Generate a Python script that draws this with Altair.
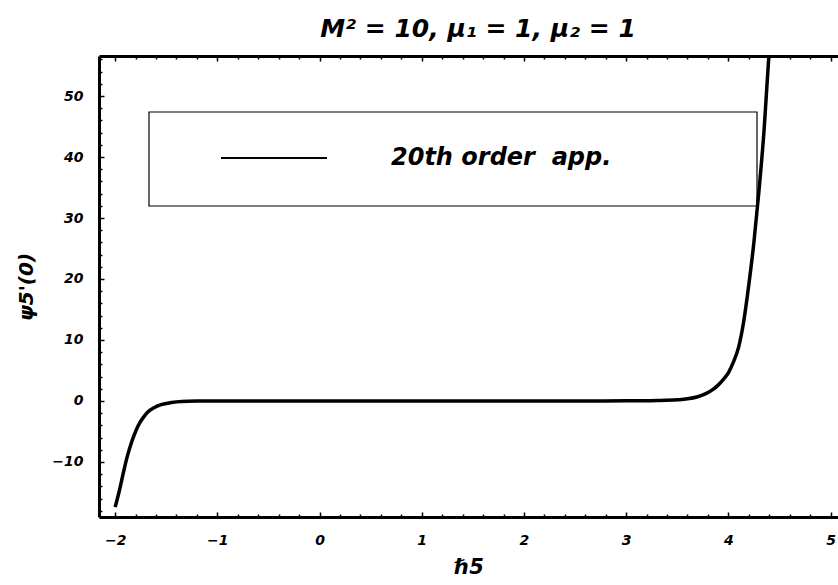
import altair as alt
import pandas as pd

# 20th order approximation of psi5'(0) against the convergence control parameter h5
h_values = [-2.0, -1.96, -1.92, -1.88, -1.84, -1.80, -1.76, -1.72, -1.68, -1.62,
            -1.55, -1.45, -1.35, -1.2, -1.0, -0.5, 0.0, 0.5, 1.0, 1.5, 2.0, 2.5,
            3.0, 3.3, 3.5, 3.6, 3.7, 3.78, 3.85, 3.9, 3.95, 4.0, 4.05, 4.1, 4.15,
            4.2, 4.25, 4.3, 4.35, 4.4, 4.45]
psi_values = [-17.4, -14.8, -11.8, -9.0, -6.8, -5.0, -3.6, -2.6, -1.8, -1.1,
              -0.6, -0.25, -0.08, -0.02, 0.0, 0.0, 0.0, 0.0, 0.0, 0.0, 0.0, 0.0,
              0.02, 0.08, 0.2, 0.35, 0.7, 1.2, 1.9, 2.6, 3.5, 4.6, 6.4, 8.8, 13.0,
              19.0, 26.0, 34.5, 44.5, 57.5, 73.0]

x_major = [-2, -1, 0, 1, 2, 3, 4, 5]
y_major = [-10, 0, 10, 20, 30, 40, 50]
x_minor = [round(-2 + 0.2 * i, 1) for i in range(36) if i % 5]
y_minor = [v for v in range(-18, 57, 2) if v % 10]

legend_label = "20th order\u00a0\u00a0app."
title_text = "M² = 10, μ₁ = 1, μ₂ = 1"
x_title = "ℏ5"
y_title = "ψ5'(0)"

df = pd.DataFrame({"h": h_values, "psi": psi_values})

FONT = "DejaVu Sans"
W, H = 739, 461

xs = alt.Scale(domain=[-2.158, 5.073], nice=False, zero=False)
ys = alt.Scale(domain=[-19.02, 56.56], nice=False, zero=False)

label_style = dict(labelFont=FONT, labelFontSize=14, labelFontWeight="bold",
                   labelFontStyle="italic", labelColor="black",
                   labelFlush=False, labelOverlap=False, grid=False)


def tick_axis(orient, values, size):
    # inward-pointing frame ticks: shift the axis into the plot by its tick length
    return alt.Axis(orient=orient, values=values, offset=-size, tickSize=size,
                    tickWidth=1.5, tickColor="black", domain=False,
                    labels=False, title=None, grid=False)


base = alt.Chart(df)

curve = base.mark_line(color="black", strokeWidth=3.5, clip=True,
                       interpolate="monotone").encode(
    x=alt.X("h:Q", scale=xs, axis=alt.Axis(
        orient="bottom", values=x_major, format="d", ticks=False, tickSize=0,
        domain=True, domainColor="black", domainWidth=3, labelPadding=16,
        title=x_title, titleFont=FONT, titleFontSize=21, titleFontWeight="bold",
        titleFontStyle="italic", titleColor="black", titlePadding=9,
        **label_style)),
    y=alt.Y("psi:Q", scale=ys, axis=alt.Axis(
        orient="left", values=y_major, format="d", ticks=False, tickSize=0,
        domain=True, domainColor="black", domainWidth=3, labelPadding=16,
        title=y_title, titleFont=FONT, titleFontSize=20, titleFontWeight="bold",
        titleFontStyle="italic", titleColor="black", titlePadding=15,
        **label_style)),
)

ticks_major = base.mark_line(opacity=0).encode(
    x=alt.X("h:Q", scale=xs, axis=tick_axis("bottom", x_major, 5)),
    y=alt.Y("psi:Q", scale=ys, axis=tick_axis("left", y_major, 5)),
)
ticks_minor = base.mark_line(opacity=0).encode(
    x=alt.X("h:Q", scale=xs, axis=tick_axis("bottom", x_minor, 3)),
    y=alt.Y("psi:Q", scale=ys, axis=tick_axis("left", y_minor, 3)),
)
top_frame = base.mark_line(opacity=0).encode(
    x=alt.X("h:Q", scale=xs, axis=alt.Axis(
        orient="top", ticks=False, labels=False, domain=True,
        domainColor="black", domainWidth=3, title=None, grid=False)),
    y=alt.Y("psi:Q", scale=ys, axis=None),
)
top_major = base.mark_line(opacity=0).encode(
    x=alt.X("h:Q", scale=xs, axis=tick_axis("top", x_major, 5)),
    y=alt.Y("psi:Q", scale=ys, axis=None),
)
top_minor = base.mark_line(opacity=0).encode(
    x=alt.X("h:Q", scale=xs, axis=tick_axis("top", x_minor, 3)),
    y=alt.Y("psi:Q", scale=ys, axis=None),
)

# legend box with a line sample and its label
legend_df = pd.DataFrame({"label": [legend_label]})
legend_box = alt.Chart(legend_df).mark_rect(
    fill="white", stroke="black", strokeWidth=1.2).encode(
    x=alt.value(50), x2=alt.value(658), y=alt.value(56), y2=alt.value(150))
legend_line = alt.Chart(legend_df).mark_rule(
    color="black", strokeWidth=2).encode(
    x=alt.value(122), x2=alt.value(228), y=alt.value(102))
legend_text = alt.Chart(legend_df).mark_text(
    align="left", baseline="middle", font=FONT, fontSize=24,
    fontWeight="bold", fontStyle="italic", color="black").encode(
    x=alt.value(292), y=alt.value(102), text="label:N")

# heading above the frame
title_df = pd.DataFrame({"t": [title_text]})
heading = alt.Chart(title_df).mark_text(
    align="center", baseline="middle", font=FONT, fontSize=25,
    fontWeight="bold", fontStyle="italic", color="black").encode(
    x=alt.value(379), y=alt.value(-27), text="t:N")

chart = alt.layer(
    legend_box, legend_line, legend_text, curve,
    ticks_major, ticks_minor, top_frame, top_major, top_minor, heading,
).resolve_axis(x="independent", y="independent").properties(
    width=W, height=H,
    autosize=alt.AutoSizeParams(type="none"),
    padding={"left": 99, "top": 56, "right": 0, "bottom": 68},
).configure_view(strokeWidth=0).configure(background="white")

chart.save("out.html", embed_options={"renderer": "svg", "actions": False})
